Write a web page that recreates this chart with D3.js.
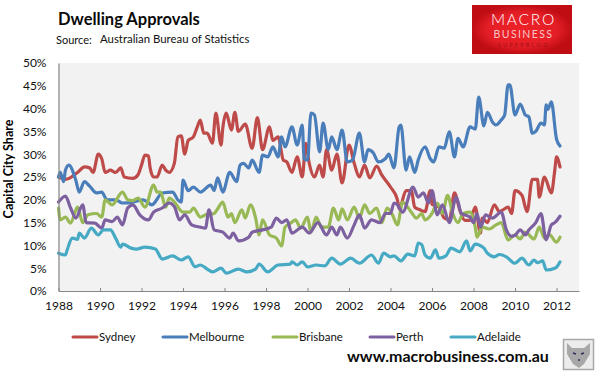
<!DOCTYPE html>
<html>
<head>
<meta charset="utf-8">
<script src="https://cdn.jsdelivr.net/npm/d3@7"></script>
<style>
  html, body { margin: 0; padding: 0; background: #fff; }
  svg { display: block; font-family: Lato, "Open Sans", sans-serif; }
</style>
</head>
<body>
<div class="canvas"></div>
<script>
// months counted from Jan 1988, values in % share
const sydneyMonths = [0,4,11,15,18,20,23,25,27,30,33,36,38,43,46,48,50,52,53,55,57,60,62,64,67,69,71,73,75,78,80,82,84,86,89,91,94,95,97,100,102,104,108,112,115,118,122,124,127,130,132,135,138,141,143,145,148,151,153,155,158,161,164,168,171,174,177,180,184,187,192,196,197,201,204,206,209,212,215,216,220,223,226,229,232,235,238,241,244,245,248,252,255,257,260,262,264,268,271,274,277,278,281,285,287,288,290];
const sydneyValues = [25,24.5,26,27.2,27,26,30,29,26,26.5,26,27,25,24.7,25.5,27.6,29.8,29.6,27,25,25,27.6,26.5,26,28,33.8,34,30,33,33.8,35.7,37.5,34.6,34.6,32.4,39,32,35.7,39,35.3,39.2,35,36.6,31.3,38,31,36,33,33.8,28.7,28.3,26,29.4,25,32.4,28,25,27.6,25,31,26.5,30,23.7,32,28,25,27.6,24.8,27.4,25.4,22.8,20,18,22,22,18.4,17.8,17.4,22,19,18.4,16,15.6,21.5,17.8,15.5,15.5,18.4,12.7,16,15,18.9,17.4,17.8,18.4,17,22,21,17.4,24.5,24.5,20.6,25,21.5,26.5,29.4,27.2];

const melbourneMonths = [0,1,3,4,6,10,12,15,18,22,25,28,33,37,43,49,54,60,66,69,71,72,75,78,82,88,90,92,95,99,103,105,107,110,112,116,118,121,124,127,129,131,135,138,141,142,144,146,148,151,153,156,158,161,164,167,170,174,177,179,182,185,189,191,194,197,198,201,203,206,208,212,215,217,220,223,226,229,231,234,238,241,243,246,248,251,253,256,258,260,261,264,267,270,272,274,276,279,281,282,283,285,288,290];
const melbourneValues = [25,26,24,26.5,27.6,24.3,21.7,24,23,21.5,21.7,20,20,19.3,19.5,20,18.9,21.5,21.7,20,19.5,24.3,22,22.8,21.7,23.2,22,24.8,21.7,26,24,27.6,28,27,28.7,26,29.8,29.4,31.6,29.4,33.8,31.6,36,32,36.4,29,28.7,39,38.6,30.5,36.8,31,33.8,31,35.3,28.3,28.7,34.6,28.3,31,30.3,28.3,29,30,27,36,36.4,26.5,29.4,26,28.7,31.6,29,28.3,31.6,31.3,34.9,29.4,33.5,31.6,36,35.5,42.5,36.2,39.2,37,36.4,37.5,38.6,45.2,45.2,38.6,41,38.6,38.2,34.6,35,36.8,36.4,40.8,39.8,41.5,33.3,31.8];

const brisbaneMonths = [0,1,4,7,11,14,17,22,25,27,31,37,40,43,46,50,55,57,59,62,64,67,72,76,78,82,85,90,92,95,98,100,102,106,108,111,114,116,118,122,126,129,131,134,137,140,144,146,149,152,156,159,162,164,167,171,174,177,180,184,187,190,193,196,199,204,207,210,212,216,219,222,225,228,231,234,238,241,242,245,249,253,256,260,264,267,270,275,278,281,284,288,290];
const brisbaneValues = [18.2,15.6,16.2,14.9,18.4,15,16.7,17,16.2,20,18.9,21.7,20,19.8,20.4,18.4,23.2,21.7,21.7,18.4,20.4,19.5,17.3,17.3,18.2,16.2,16.7,17,18,19.5,16.2,17,15,17.8,16,18.9,16,12.3,15.6,12.3,11.6,9.9,14,14.8,15.6,13.8,16.2,12.9,16.2,14,14,18.2,15.6,18,15.6,18.4,16,18.9,17,18.2,15,18.2,16.8,14.5,19.5,17.3,16,17,15.6,17,19.3,17,21,17,15,17,17.3,14,11.8,14,13.6,14.5,15,11.2,12.3,11.4,12.9,11.4,14,11.6,12.3,10.7,11.8];

const perthMonths = [0,4,7,10,14,16,21,25,27,31,34,37,40,43,47,52,55,60,64,67,70,73,77,82,85,87,90,95,99,101,104,110,112,118,123,126,129,132,135,141,145,150,155,158,161,163,167,171,174,177,181,186,189,192,194,196,199,205,208,211,214,216,219,222,226,230,233,238,240,242,244,247,251,256,259,262,264,267,270,272,276,279,282,285,287,290];
const perthValues = [19.5,20.8,18.2,16,18.9,15,14.9,13.8,15.6,15.2,16.2,14.5,18.2,18.9,16.7,15.6,17.3,18.2,19.3,18.5,15.6,16.7,14.5,14,13.8,17.8,13.4,12.9,11.6,12.7,11,11.8,12.9,13.4,14,16,15,15.6,12.7,14,12.7,15,12.3,14,12.3,14,11.6,14.5,16.7,13.8,15.6,15,17,17,19.3,18.9,17.3,22.8,20.6,21.5,19.3,22,16.7,18.9,15,20.6,17,16.2,15,17,14,16.7,16,17.3,13.4,12,12.2,13.4,12.3,13.4,15,17,11.2,14.5,15,16.4];

const adelaideMonths = [0,4,5,8,11,12,15,19,23,26,30,33,36,37,42,45,50,56,60,66,71,75,79,82,86,89,94,97,104,109,114,116,121,127,134,135,138,141,144,149,154,158,163,169,174,181,185,188,192,194,198,202,206,208,210,212,215,218,220,224,227,232,236,238,241,246,248,252,255,259,264,268,272,275,277,280,282,287,288,290];
const adelaideValues = [8.3,7.9,9,11.6,11.3,12.7,11.6,13.8,12.3,13.4,13.4,11.6,9.6,10.3,9.4,9.2,9.6,9.2,7,7.7,6.8,7.5,5.3,5.7,4.8,4.2,5,3.9,4.8,4.2,4.8,5.9,4.2,5.7,5.9,6.4,5.7,6.4,5.3,5.7,5.5,7.2,5.9,7.2,6.1,7.9,6.1,8.3,7.5,7.7,6.6,8.1,7.7,10.5,10.2,7.9,7.2,9,7.2,7.7,9.4,8.6,11,8.8,10.3,9.4,8.3,7.5,8,7.5,6.1,7.2,5.7,6.8,6.2,6.6,4.6,5,5.2,6.4];

const seriesNames = ["Sydney", "Melbourne", "Brisbane", "Perth", "Adelaide"];
const seriesColors = ["#be4b48", "#4a7ebb", "#98b954", "#7d60a0", "#46aac5"];
const seriesMonths = [sydneyMonths, melbourneMonths, brisbaneMonths, perthMonths, adelaideMonths];
const seriesValues = [sydneyValues, melbourneValues, brisbaneValues, perthValues, adelaideValues];
const legendX = [72, 162, 272, 369, 450];

const tickYears = ["1988","1990","1992","1994","1996","1998","2000","2002","2004","2006","2008","2010","2012"];
const valueTicks = [0,5,10,15,20,25,30,35,40,45,50];

const width = 598, height = 381;
const margin = { top: 63, right: 19, bottom: 90, left: 58.5 };

const x = d3.scaleLinear().domain([0, 301]).range([margin.left, width - margin.right]);
const y = d3.scaleLinear().domain([0, 50]).range([height - margin.bottom, margin.top]);

const svg = d3.select(".canvas").append("svg")
  .attr("width", width)
  .attr("height", height);

svg.append("rect")
  .attr("x", margin.left).attr("y", margin.top)
  .attr("width", width - margin.right - margin.left)
  .attr("height", height - margin.bottom - margin.top)
  .attr("fill", "#f2f2f2");

const defs = svg.append("defs");
defs.append("filter").attr("id", "soft")
  .append("feGaussianBlur").attr("stdDeviation", 0.35);

const line = d3.line()
  .x(d => x(d[0]))
  .y(d => y(d[1]))
  .curve(d3.curveMonotoneX);

svg.append("g")
  .attr("filter", "url(#soft)")
  .selectAll("path")
  .data(seriesNames)
  .join("path")
    .attr("d", (d, i) => line(d3.zip(seriesMonths[i], seriesValues[i])))
    .attr("fill", "none")
    .attr("stroke", (d, i) => seriesColors[i])
    .attr("stroke-width", 3.2)
    .attr("stroke-linejoin", "round")
    .attr("stroke-linecap", "round");

// x axis, ticks point up into the plot
const xAxis = d3.axisBottom(x)
  .tickValues(tickYears.map((d, i) => i * 24))
  .tickFormat((d, i) => tickYears[i])
  .tickSizeInner(-3)
  .tickSizeOuter(0)
  .tickPadding(10);

const gx = svg.append("g").attr("transform", `translate(0,${height - margin.bottom})`).call(xAxis);
gx.select(".domain").attr("stroke", "#868686").attr("stroke-width", 1.2);
gx.selectAll(".tick line").attr("stroke", "#868686");
gx.selectAll(".tick text").attr("font-size", 12).attr("font-family", "Lato").attr("fill", "#111");

const yAxis = d3.axisLeft(y)
  .tickValues(valueTicks)
  .tickFormat(d => d + "%")
  .tickSize(0)
  .tickPadding(12);

const gy = svg.append("g").attr("transform", `translate(${margin.left},0)`).call(yAxis);
gy.select(".domain").attr("stroke", "#868686").attr("stroke-width", 1.2);
gy.selectAll(".tick text").attr("font-size", 12).attr("font-family", "Lato").attr("fill", "#111");

svg.append("text")
  .attr("transform", "translate(13,169) rotate(-90)")
  .attr("text-anchor", "middle")
  .attr("font-size", 12.5)
  .attr("font-weight", 700)
  .attr("fill", "#000")
  .text("Capital City Share");

svg.append("text").attr("x", 58).attr("y", 25)
  .attr("font-size", 16.5).attr("font-weight", 700).attr("fill", "#0a0a0a")
  .text("Dwelling Approvals");
svg.append("text").attr("x", 56).attr("y", 44)
  .attr("font-size", 11).attr("fill", "#111").text("Source:");
svg.append("text").attr("x", 100).attr("y", 43)
  .attr("font-size", 11.4).attr("fill", "#111").text("Australian Bureau of Statistics");

// legend
const legend = svg.append("g").selectAll("g").data(seriesNames).join("g")
  .attr("transform", (d, i) => `translate(${legendX[i]},337)`);
legend.append("line")
  .attr("x1", 1).attr("x2", 25)
  .attr("stroke", (d, i) => seriesColors[i])
  .attr("stroke-width", 3)
  .attr("stroke-linecap", "round");
legend.append("text")
  .attr("x", 27).attr("y", 4)
  .attr("font-size", 11.5).attr("fill", "#111")
  .text(d => d);

svg.append("text").attr("x", 347).attr("y", 362)
  .attr("font-size", 16).attr("font-weight", 700).attr("fill", "#0a0a0a")
  .text("www.macrobusiness.com.au");

// logo
const grad = defs.append("radialGradient").attr("id", "logoRed");
grad.append("stop").attr("offset", "0%").attr("stop-color", "#ee2228");
grad.append("stop").attr("offset", "70%").attr("stop-color", "#e41e26");
grad.append("stop").attr("offset", "100%").attr("stop-color", "#c00d14");
svg.append("rect").attr("x", 472).attr("y", 5).attr("width", 100).attr("height", 49)
  .attr("fill", "url(#logoRed)");
svg.append("text").attr("x", 523.5).attr("y", 25).attr("text-anchor", "middle")
  .attr("font-size", 15.5).attr("font-weight", 300).attr("letter-spacing", 1.8).attr("fill", "#fff").text("MACRO");
svg.append("text").attr("x", 523.5).attr("y", 38).attr("text-anchor", "middle")
  .attr("font-size", 10.5).attr("letter-spacing", 1.4).attr("fill", "#f8c4c6").text("BUSINESS");
svg.append("text").attr("x", 523.5).attr("y", 47).attr("text-anchor", "middle")
  .attr("font-size", 5.5).attr("letter-spacing", 2.2).attr("fill", "#9c1218").text("SUPERBLOG");

// wolf badge
svg.append("rect").attr("x", 563.5).attr("y", 339.5).attr("width", 30).attr("height", 30)
  .attr("fill", "#ececec").attr("stroke", "#a8a8a8").attr("stroke-width", 1.5);
svg.append("path")
  .attr("d", "M567,343 L572,348 L584,348 L590,343 L590,354 L584,364 L579,368 L573,364 L567,354 Z")
  .attr("fill", "#a8a8a8");
svg.append("path")
  .attr("d", "M573,353 l3,1 M584,353 l-3,1 M578,360 l2,0")
  .attr("stroke", "#3c2a5c").attr("stroke-width", 1.6);
</script>
</body>
</html>
